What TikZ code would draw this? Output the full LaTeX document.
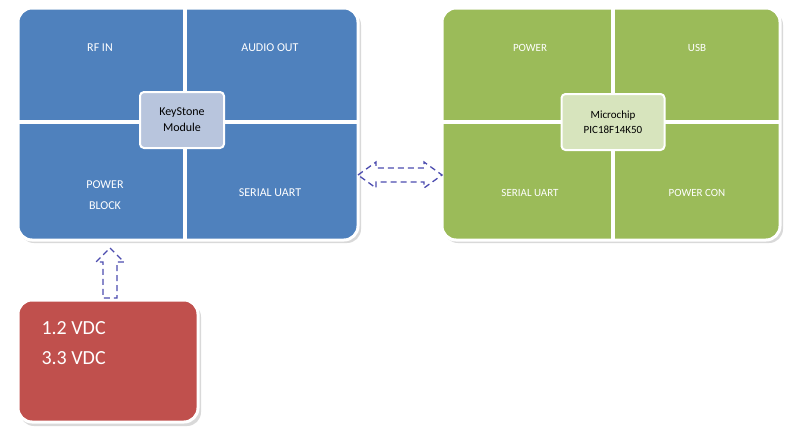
\documentclass[tikz,border=0pt]{standalone}
\usepackage{fontspec}
\setmainfont{Carlito}
\begin{document}
\begin{tikzpicture}[x=1pt,y=-1pt,
  blk/.style={draw=white,line width=3pt,rounded corners=14pt},
  shd/.style={fill=black!15,rounded corners=14pt},
  lbl/.style={text=white,font=\fontsize{12}{15}\selectfont,align=center},
  ctr/.style={draw=white,line width=2pt,rounded corners=4pt,minimum width=84pt,minimum height=56pt,align=center,font=\fontsize{12}{16}\selectfont},
  arr/.style={draw=blue!55!black!70!white,dashed,line width=1.3pt,dash pattern=on 6pt off 4pt,line join=miter}]
\useasboundingbox (0,0) rectangle (792,442);
% shadows
\fill[shd] (20,11) rectangle (361,243);
\fill[shd] (444,11) rectangle (783,243);
\fill[shd] (20,303) rectangle (201,426);
% blue block
\path[blk,fill={rgb,255:red,79;green,129;blue,189}] (18,8) rectangle (358,240);
\draw[white,line width=4pt] (185,8) -- (185,240) (18,122) -- (358,122);
\node[ctr,fill={rgb,255:red,184;green,197;blue,221}] (ks) at (182,120) {KeyStone\\Module};
\node[lbl] (rf) at (100,48) {RF IN};
\node[lbl] (ao) at (270,48) {AUDIO OUT};
\node[lbl] (pb) at (105,195) {POWER\\[6pt]BLOCK};
\node[lbl] (su) at (270,193) {SERIAL UART};
% green block
\path[blk,fill={rgb,255:red,155;green,187;blue,89}] (442,8) rectangle (780,240);
\draw[white,line width=4pt] (613,8) -- (613,240) (442,122) -- (780,122);
\node[ctr,fill={rgb,255:red,215;green,228;blue,189},minimum width=103pt,font=\fontsize{11}{15}\selectfont] (mc) at (613,122) {Microchip\\PIC18F14K50};
\node[lbl,font=\fontsize{11}{14}\selectfont] (pw) at (530,48) {POWER};
\node[lbl,font=\fontsize{11}{14}\selectfont] (usb) at (697,48) {USB};
\node[lbl,font=\fontsize{11}{14}\selectfont] (su2) at (530,193) {SERIAL UART};
\node[lbl,font=\fontsize{11}{14}\selectfont] (pc) at (697,193) {POWER CON};
% red block
\path[blk,fill={rgb,255:red,192;green,80;blue,77}] (18,300) rectangle (198,422);
\node[text=white,font=\fontsize{20}{30}\selectfont,align=left,anchor=north west] (v) at (38,318) {1.2 VDC\\3.3 VDC};
% horizontal double arrow
\draw[arr] (358,175) -- (376,162) -- (376,168) -- (424,168) -- (424,162) -- (442,175) -- (424,188) -- (424,182) -- (376,182) -- (376,188) -- cycle;
% vertical arrow
\draw[arr] (110,248) -- (124,262) -- (117,262) -- (117,298) -- (103,298) -- (103,262) -- (96,262) -- cycle;
\end{tikzpicture}
\end{document}
